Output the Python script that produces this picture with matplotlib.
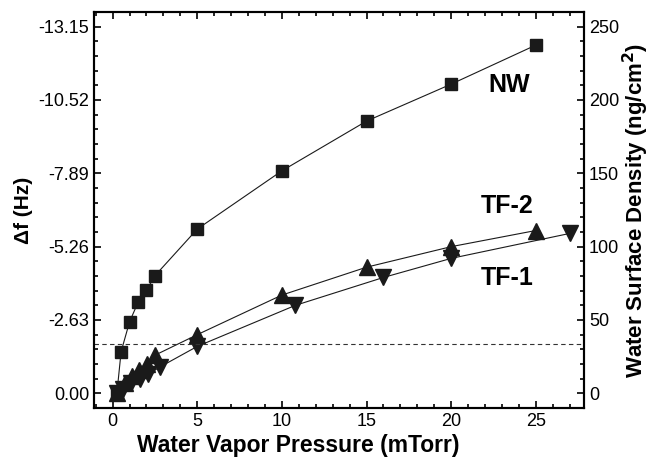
import matplotlib
matplotlib.use("Agg")
import matplotlib.pyplot as plt
import numpy as np
from matplotlib.ticker import MultipleLocator, FixedLocator

plt.rcParams['font.family'] = ['Liberation Sans', 'DejaVu Sans']

# water vapor pressure (mTorr) and water surface density (ng/cm^2)
nw_p = [0.25, 0.5, 1, 1.5, 2, 2.5, 5, 10, 15, 20, 25]
nw_d = [0, 28.4, 48.8, 62, 70.4, 80.2, 112, 151.7, 185.6, 210.8, 237.4]

tf2_p = [0.25, 0.75, 1.15, 1.55, 2.05, 2.5, 5, 10, 15, 20, 25]
tf2_d = [0, 7, 12, 16, 20, 26, 40, 67, 86, 100, 111]

tf1_p = [0.25, 0.6, 1.1, 1.6, 2.1, 2.8, 5, 10.8, 16, 20, 27]
tf1_d = [0, 3, 7, 10, 13, 18, 32, 60, 79, 92, 109]

monolayer = 33.5
hz_per_density = -13.15 / 250
hz_ticks = [0.00, -2.63, -5.26, -7.89, -10.52, -13.15]

fig = plt.figure(figsize=(6.65, 4.63), dpi=100)
ax = fig.add_axes([0.1414, 0.1188, 0.7368, 0.8553])
axr = ax.twinx()

col = '#1a1a1a'
axr.plot(nw_p, nw_d, '-s', color=col, lw=0.8, ms=8.5, mec=col)
axr.plot(tf2_p, tf2_d, '-^', color=col, lw=0.8, ms=11.5, mec=col)
axr.plot(tf1_p, tf1_d, '-v', color=col, lw=0.8, ms=11.5, mec=col)
axr.axhline(monolayer, color='#333333', lw=0.8, dashes=(4, 3))

axr.text(23.4, 210, 'NW', fontsize=18, fontweight='bold', ha='center', va='center')
axr.text(23.3, 128, 'TF-2', fontsize=18, fontweight='bold', ha='center', va='center')
axr.text(23.3, 78.5, 'TF-1', fontsize=18, fontweight='bold', ha='center', va='center')

ax.set_xlim(-1.1, 27.85)
axr.set_ylim(-10, 260)
ax.set_ylim(-10 * hz_per_density, 260 * hz_per_density)

ax.xaxis.set_major_locator(MultipleLocator(5))
ax.xaxis.set_minor_locator(MultipleLocator(1))
axr.yaxis.set_major_locator(MultipleLocator(50))
axr.yaxis.set_minor_locator(MultipleLocator(10))
ax.yaxis.set_major_locator(FixedLocator(hz_ticks))
ax.yaxis.set_minor_locator(FixedLocator([i * 10 * hz_per_density for i in range(-1, 27)]))
ax.set_yticklabels(['%.2f' % v for v in hz_ticks])

for a in (ax, axr):
    a.tick_params(which='both', direction='in', labelsize=13, width=1.2, top=True)
    a.tick_params(which='major', length=5)
    a.tick_params(which='minor', length=3)
    for s in a.spines.values():
        s.set_linewidth(1.5)
ax.tick_params(axis='y', right=False)
axr.tick_params(axis='x', top=False, bottom=False)

ax.set_xlabel('Water Vapor Pressure (mTorr)', fontsize=16.5, fontweight='bold', labelpad=2)
ax.xaxis.set_label_coords(0.416, -0.065)
ax.set_ylabel('Δf (Hz)', fontsize=15, fontweight='bold', labelpad=4)
axr.set_ylabel('Water Surface Density (ng/cm$^\\mathbf{2}$)', fontsize=16, fontweight='bold', labelpad=1)

fig.savefig('out.png', dpi=100)
